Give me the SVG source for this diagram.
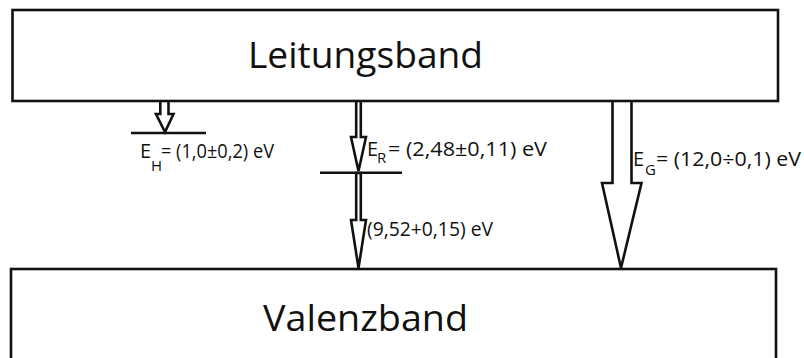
<svg xmlns="http://www.w3.org/2000/svg" width="804" height="358" viewBox="0 0 804 358">
<style>
.box{fill:#fff;stroke:#111;stroke-width:2.6}
.arr{fill:#fff;stroke:#111;stroke-width:2.6;stroke-linejoin:miter}
.lvl{stroke:#111;stroke-width:2.6}
.big{font-family:"Open Sans","Liberation Sans",sans-serif;font-size:37px;fill:#111}
.lbl{font-family:"Open Sans","Liberation Sans",sans-serif;font-size:20px;fill:#111}
.sub{font-family:"Open Sans","Liberation Sans",sans-serif;font-size:15px;fill:#111}
</style>
<rect width="804" height="358" fill="#fff"/>
<g id="connectors">
  <polygon class="arr" points="160.3,100 160.3,114 156,114 165,132 173.5,114 168.5,114 168.5,100"/>
  <polygon class="arr" points="356.2,100 356.2,137 351,137 358.5,171 366,137 360.8,137 360.8,100"/>
  <polygon class="arr" points="356.2,173 356.2,220 351,220 358.5,268 366,220 360.8,220 360.8,173"/>
  <polygon class="arr" points="612.5,100 612.5,183 602,183 621,268 641.5,183 631.5,183 631.5,100"/>
</g>
<g id="leitungsband">
  <rect class="box" x="12.5" y="10" width="765.5" height="91"/>
  <text class="big" x="365.5" y="68" text-anchor="middle" textLength="235" lengthAdjust="spacingAndGlyphs">Leitungsband</text>
</g>
<g id="valenzband">
  <rect class="box" x="11" y="269" width="765" height="100"/>
  <text class="big" x="365.5" y="331" text-anchor="middle" textLength="205" lengthAdjust="spacingAndGlyphs">Valenzband</text>
</g>
<g id="level-H">
  <line class="lvl" x1="131" y1="133" x2="206" y2="133"/>
</g>
<g id="level-R">
  <line class="lvl" x1="320" y1="172.7" x2="402" y2="172.7"/>
</g>
<g id="label-H">
  <text class="lbl" x="140" y="158">E</text>
  <text class="sub" x="151" y="171">H</text>
  <text class="lbl" x="161" y="158" textLength="113" lengthAdjust="spacingAndGlyphs">= (1,0±0,2) eV</text>
</g>
<g id="label-R">
  <text class="lbl" x="367" y="156">E</text>
  <text class="sub" x="377" y="163">R</text>
  <text class="lbl" x="388" y="156" textLength="159" lengthAdjust="spacingAndGlyphs">= (2,48±0,11) eV</text>
</g>
<g id="label-9">
  <text class="lbl" x="367" y="236" textLength="126" lengthAdjust="spacingAndGlyphs">(9,52+0,15) eV</text>
</g>
<g id="label-G">
  <text class="lbl" x="633" y="166">E</text>
  <text class="sub" x="645" y="175">G</text>
  <text class="lbl" x="656" y="166" textLength="145" lengthAdjust="spacingAndGlyphs">= (12,0÷0,1) eV</text>
</g>
</svg>
